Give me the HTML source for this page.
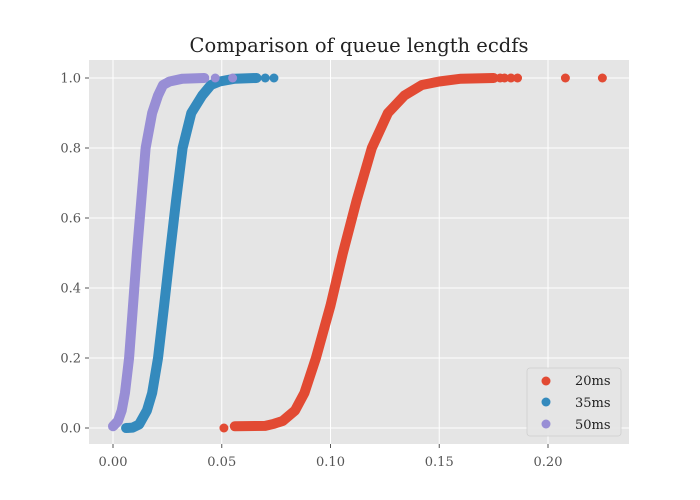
<!DOCTYPE html>
<html><head><meta charset="utf-8"><style>
html,body{margin:0;padding:0;background:#fff;}
svg{display:block;font-family:"DejaVu Serif","Liberation Serif",serif;}
</style></head><body>
<svg id="chart" width="700" height="500">
<rect x="89" y="60" width="540" height="384" fill="#E5E5E5"/>
<g id="grid"></g><g id="ticks"></g><g id="series"></g>
<text x="359" y="52" text-anchor="middle" font-size="19.5" fill="#222">Comparison of queue length ecdfs</text>
<g>
<rect x="527" y="368" width="94" height="68" rx="3" fill="#E5E5E5" stroke="#ccc" stroke-width="0.8" opacity="0.9"/>
<g><circle cx="546" cy="381" r="4.5" fill="#E24A33"/><text x="575" y="385" font-size="13" fill="#222">20ms</text></g>
<g><circle cx="546" cy="402" r="4.5" fill="#348ABD"/><text x="575" y="407" font-size="13" fill="#222">35ms</text></g>
<g><circle cx="546" cy="424" r="4.5" fill="#988ED5"/><text x="575" y="429" font-size="13" fill="#222">50ms</text></g>
</g>
</svg>
<script>
const xTicks=[0,0.05,0.10,0.15,0.20];
const xTickLabels=["0.00","0.05","0.10","0.15","0.20"];
const yTicks=[0,0.2,0.4,0.6,0.8,1.0];
const yTickLabels=["0.0","0.2","0.4","0.6","0.8","1.0"];
const seriesNames=["20ms","35ms","50ms"];
const seriesColors=["#E24A33","#348ABD","#988ED5"];
const red_x=[0.056,0.070,0.074,0.078,0.0837,0.088,0.0933,0.1,0.1057,0.112,0.119,0.1264,0.134,0.142,0.150,0.160,0.175];
const red_y=[0.005,0.006,0.012,0.02,0.05,0.1,0.2,0.35,0.5,0.65,0.8,0.9,0.95,0.98,0.99,0.998,1.0];
const red_out_x=[0.051,0.178,0.180,0.183,0.186,0.208,0.225];
const red_out_y=[0.0,1,1,1,1,1,1];
const blue_x=[0.006,0.009,0.012,0.0156,0.018,0.0207,0.0235,0.0262,0.029,0.032,0.036,0.041,0.045,0.049,0.056,0.066];
const blue_y=[0.0,0.001,0.01,0.05,0.1,0.2,0.35,0.5,0.65,0.8,0.9,0.95,0.98,0.99,0.998,1.0];
const blue_out_x=[0.070,0.074];
const blue_out_y=[1,1];
const purple_x=[0.0,0.0023,0.004,0.0055,0.0074,0.0092,0.011,0.013,0.015,0.018,0.0207,0.023,0.026,0.032,0.042];
const purple_y=[0.005,0.02,0.05,0.1,0.2,0.35,0.5,0.65,0.8,0.9,0.95,0.98,0.99,0.998,1.0];
const purple_out_x=[0.047,0.055];
const purple_out_y=[1,1];

const NS="http://www.w3.org/2000/svg";
const X=v=>113+v*2175, Y=v=>428-v*350;
function mk(t,a,p){const e=document.createElementNS(NS,t);for(const k in a)e.setAttribute(k,a[k]);p.appendChild(e);return e;}
const grid=document.getElementById('grid'),ticks=document.getElementById('ticks'),ser=document.getElementById('series');
xTicks.forEach((v,i)=>{
 const l=mk('line',{x1:X(v),x2:X(v),y1:60,y2:444,stroke:'#fff','stroke-width':1},grid);
 
 
 mk('line',{x1:X(v),x2:X(v),y1:444,y2:448,stroke:'#555'},ticks);
 const t=mk('text',{x:X(v),y:466,'text-anchor':'middle','font-size':13,fill:'#555'},ticks);
 t.textContent=xTickLabels[i];
 
 
});
yTicks.forEach((v,i)=>{
 const l=mk('line',{x1:89,x2:629,y1:Y(v),y2:Y(v),stroke:'#fff','stroke-width':1},grid);
 
 
 mk('line',{x1:85,x2:89,y1:Y(v),y2:Y(v),stroke:'#555'},ticks);
 const t=mk('text',{x:81,y:Y(v)+4.5,'text-anchor':'end','font-size':13,fill:'#555'},ticks);
 t.textContent=yTickLabels[i];
 
 
});
const sets=[[red_x,red_y,red_out_x,red_out_y],[blue_x,blue_y,blue_out_x,blue_out_y],[purple_x,purple_y,purple_out_x,purple_out_y]];
sets.forEach((s,i)=>{
 const g=mk('g',{},ser);
 
 
 const pts=s[0].map((x,j)=>X(x)+','+Y(s[1][j])).join(' ');
 const pl=mk('polyline',{points:pts,fill:'none',stroke:seriesColors[i],'stroke-width':10,'stroke-linecap':'round','stroke-linejoin':'round'},g);
 
 
 s[2].forEach((x,j)=>{
  const c=mk('circle',{cx:X(x),cy:Y(s[3][j]),r:4.5,fill:seriesColors[i]},g);
  
  
 });
});
</script>
</body></html>
